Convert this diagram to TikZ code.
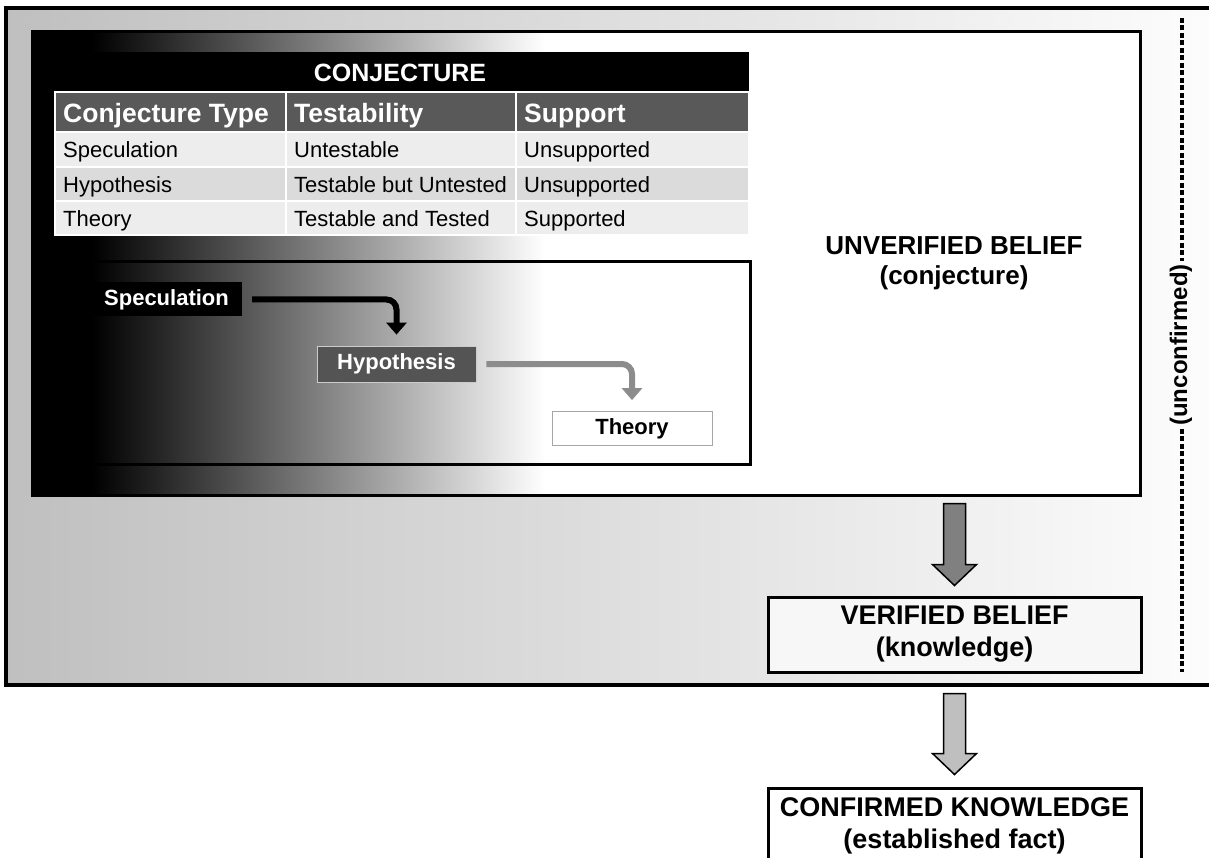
\documentclass[tikz,border=0pt]{standalone}
\usepackage{fontspec}
\setmainfont{Liberation Sans}
\usetikzlibrary{positioning,calc,arrows.meta}
\definecolor{bgleft}{gray}{0.75}
\definecolor{bgright}{gray}{0.99}
\definecolor{hdrgray}{gray}{0.35}
\definecolor{rowlight}{gray}{0.93}
\definecolor{rowdark}{gray}{0.86}
\definecolor{hypgray}{gray}{0.33}
\definecolor{arrgray}{gray}{0.55}
\definecolor{blkdark}{gray}{0.5}
\definecolor{blklight}{gray}{0.75}
\tikzstyle{canvas}=[x=1pt,y=-1pt]
\tikzstyle{cell}=[draw=white,line width=1.5pt]
\tikzstyle{celltxt}=[anchor=west,inner sep=0pt,text height=16pt,text depth=5pt,yshift=-3pt,font=\fontsize{22}{26}\selectfont]
\tikzstyle{hdrtxt}=[celltxt,text=white,text height=19pt,text depth=6pt,font=\fontsize{26.5}{30}\selectfont\bfseries]
\tikzstyle{stage}=[minimum height=34pt,inner sep=0pt,font=\fontsize{22}{26}\selectfont\bfseries]
\tikzstyle{flow}=[line width=6pt,rounded corners=10pt,-{Triangle[width=20pt,length=12pt]},shorten <=10pt,shorten >=11pt]
\tikzstyle{belief}=[draw,line width=3pt,minimum width=373pt,align=center,font=\fontsize{27}{32}\selectfont\bfseries]
\tikzstyle{blockarr}=[draw,line width=1.5pt,line join=miter]
\tikzstyle{dashln}=[line width=3.5pt,dash pattern=on 5pt off 2.5pt]
\newcommand\blockarrow[3]{% top, tip, fill
  \draw[blockarr,fill=#3] ($(#1)+(-11,0)$) -- ($(#2)+(-11,-21)$) -- ($(#2)+(-22,-21)$) -- (#2)
    -- ($(#2)+(22,-21)$) -- ($(#2)+(11,-21)$) -- ($(#1)+(11,0)$) -- cycle;}

\begin{document}
\begin{tikzpicture}[canvas]
\useasboundingbox (0,0) rectangle (1209,858);
% outer frame
\shade[left color=bgleft,right color=bgright] (6,8) rectangle (1209,685);
\draw[line width=4pt] (1209,8) -- (6,8) -- (6,685) -- (1209,685);
% conjecture box
\fill[white] (32,32) rectangle (1140,495);
\fill[black] (32,32) rectangle (92,495);
\shade[left color=black,right color=white] (92,32) rectangle (545,495);
\node[draw,line width=3pt,inner sep=0pt,minimum width=1108pt,minimum height=463pt] (conj) at (586,263.5) {};
\node[font=\fontsize{26}{30}\selectfont\bfseries,align=center] (unv) at (954,263) {UNVERIFIED BELIEF\\(conjecture)};
% table
\fill[black] (55,52) rectangle (749,92);
\node[text=white,font=\fontsize{25}{29}\selectfont\bfseries] (title) at (400,73) {CONJECTURE};
\foreach \xa/\xb/\t [count=\c] in {55/286/Conjecture Type, 286/516/Testability, 516/749/Support}
  {\draw[cell,fill=hdrgray] (\xa,92) rectangle (\xb,132);
   \node[hdrtxt] (h\c) at (\xa+8,113) {\t};}
\foreach \r/\ya/\yb/\f/\a/\b/\cc in {1/132/167/rowlight/Speculation/Untestable/Unsupported,
    2/167/201/rowdark/Hypothesis/Testable but Untested/Unsupported,
    3/201/235/rowlight/Theory/Testable and Tested/Supported}
  {\foreach \xa/\xb/\t [count=\c] in {55/286/\a, 286/516/\b, 516/749/\cc}
    {\draw[cell,fill=\f] (\xa,\ya) rectangle (\xb,\yb);
     \node[celltxt] (c\r-\c) at (\xa+8,{(\ya+\yb)/2}) {\t};}}
% flow
\draw[line width=3pt] (72,262) rectangle (750,464);
\node[stage,fill=black,text=white,minimum width=151pt] (spec) at (166.5,299.5) {Speculation};
\node[stage,fill=hypgray,draw=gray!40,line width=0.8pt,text=white,minimum width=159pt,minimum height=36pt] (hyp) at (396.5,364) {Hypothesis};
\node[stage,fill=white,draw=gray!70,line width=0.8pt,minimum width=160pt] (theory) at (632,428.5) {Theory};
\draw[flow] (spec.east) -| (hyp.north);
\draw[flow,arrgray] (hyp.east) -| (theory.north);
% beliefs
\node[belief,fill=white!97!black,minimum height=75pt] (ver) at (954.5,634.5) {VERIFIED BELIEF\\(knowledge)};
\node[belief,fill=white,minimum height=76pt] (conf) at (954.5,826) {CONFIRMED KNOWLEDGE\\(established fact)};
\path (ver.north) ++(0,-92) coordinate (a1top) ++(0,82) coordinate (a1tip);
\path (conf.north) ++(0,-93) coordinate (a2top) ++(0,81) coordinate (a2tip);
\blockarrow{a1top}{a1tip}{blkdark}
\blockarrow{a2top}{a2tip}{blklight}
% unconfirmed
\node[rotate=90,font=\fontsize{24}{28}\selectfont\bfseries,inner sep=3pt] (unconf) at (1181,345) {(unconfirmed)};
\coordinate (dtop) at (1182,18);
\coordinate (dbot) at (1182,672);
\draw[dashln] (dtop) -- (dtop |- unconf.east);
\draw[dashln] (dbot |- unconf.west) -- (dbot);
\end{tikzpicture}
\end{document}
